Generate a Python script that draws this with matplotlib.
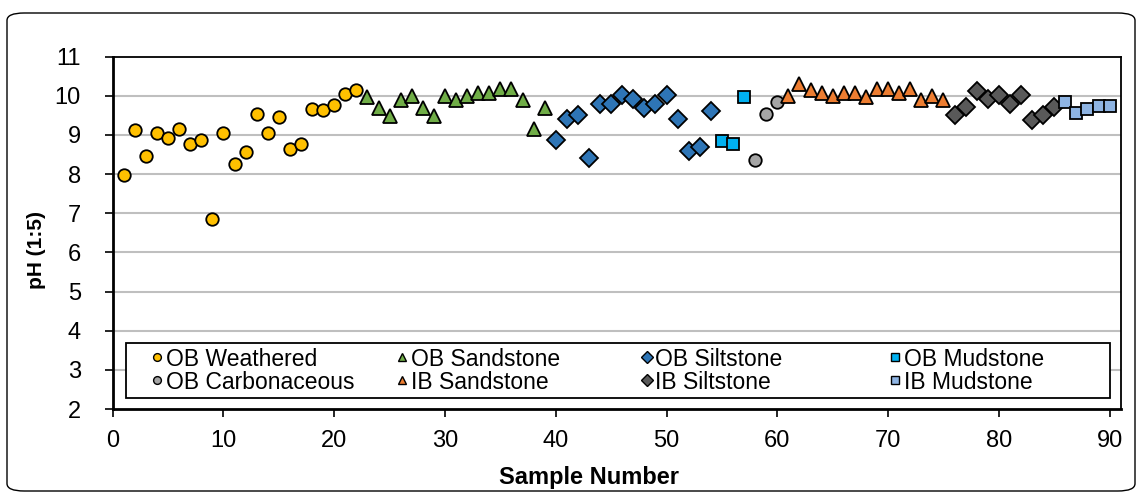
import matplotlib
matplotlib.use("Agg")
import matplotlib.pyplot as plt
from matplotlib.patches import FancyBboxPatch, Rectangle
from matplotlib.legend import Legend
from matplotlib.lines import Line2D

plt.rcParams['font.family'] = ['Liberation Sans', 'DejaVu Sans']

# ---- data ----
weathered_x = list(range(1, 23))
weathered_y = [7.97, 9.14, 8.46, 9.06, 8.92, 9.15, 8.76, 8.86, 6.85, 9.06, 8.27,
               8.56, 9.54, 9.06, 9.45, 8.63, 8.76, 9.66, 9.65, 9.76, 10.05, 10.15]
ob_sand_x = list(range(23, 40))
ob_sand_y = [9.97, 9.70, 9.48, 9.90, 10.00, 9.69, 9.48, 10.00, 9.90, 9.99, 10.08,
             10.08, 10.17, 10.17, 9.90, 9.15, 9.69]
ob_silt_x = list(range(40, 55))
ob_silt_y = [8.88, 9.40, 9.50, 8.41, 9.80, 9.79, 10.03, 9.93, 9.70, 9.80, 10.03,
             9.40, 8.58, 8.70, 9.62]
ob_mud_x = [55, 56, 57]
ob_mud_y = [8.85, 8.77, 9.97]
ob_carb_x = [58, 59, 60]
ob_carb_y = [8.35, 9.54, 9.83]
ib_sand_x = list(range(61, 76))
ib_sand_y = [9.99, 10.30, 10.16, 10.08, 9.99, 10.08, 10.08, 9.97, 10.17, 10.17,
             10.08, 10.17, 9.90, 9.99, 9.90]
ib_silt_x = list(range(76, 86))
ib_silt_y = [9.50, 9.71, 10.12, 9.93, 10.03, 9.80, 10.03, 9.39, 9.50, 9.71]
ib_mud_x = [86, 87, 88, 89, 90]
ib_mud_y = [9.83, 9.55, 9.66, 9.74, 9.74]

legend_columns = [["OB Weathered", "OB Carbonaceous"],
                  ["OB Sandstone", "IB Sandstone"],
                  ["OB Siltstone", "IB Siltstone"],
                  ["OB Mudstone", "IB Mudstone"]]
x_ticks = [0, 10, 20, 30, 40, 50, 60, 70, 80, 90]
y_ticks = [2, 3, 4, 5, 6, 7, 8, 9, 10, 11]

# ---- figure ----
W, H = 1143, 494
fig = plt.figure(figsize=(W / 100, H / 100), dpi=100)

left, right, top, bottom = 112.7, 1120.7, 56.7, 409.0
ax = fig.add_axes([left / W, 1 - bottom / H, (right - left) / W, (bottom - top) / H])

border = FancyBboxPatch((7 / W, 3 / H), (1135 - 7) / W, (486 - 8) / H,
                        boxstyle="round,pad=0,rounding_size=0.015",
                        transform=fig.transFigure, facecolor='none',
                        edgecolor='black', linewidth=1.0, zorder=10)
fig.patches.append(border)

# (x, y, marker, colour, plot size, legend size, label)
styles = [
    (weathered_x, weathered_y, 'o', '#FFC000', 9.0, 5.6, "OB Weathered"),
    (ob_sand_x, ob_sand_y, '^', '#70AD47', 9.5, 6.0, "OB Sandstone"),
    (ob_silt_x, ob_silt_y, 'D', '#2E75B6', 9.6, 6.6, "OB Siltstone"),
    (ob_mud_x, ob_mud_y, 's', '#00B0F0', 9.0, 5.6, "OB Mudstone"),
    (ob_carb_x, ob_carb_y, 'o', '#A5A5A5', 9.0, 5.6, "OB Carbonaceous"),
    (ib_sand_x, ib_sand_y, '^', '#ED7D31', 9.5, 6.0, "IB Sandstone"),
    (ib_silt_x, ib_silt_y, 'D', '#595959', 9.6, 6.6, "IB Siltstone"),
    (ib_mud_x, ib_mud_y, 's', '#8EB4E3', 9.0, 5.6, "IB Mudstone"),
]
proxies = {}
for xs, ys, m, c, ms, lms, lab in styles:
    ax.plot(xs, ys, linestyle='none', marker=m, markersize=ms,
            markerfacecolor=c, markeredgecolor='black', markeredgewidth=1.3,
            label=lab, zorder=3)
    proxies[lab] = Line2D([], [], linestyle='none', marker=m, markersize=lms,
                          markerfacecolor=c, markeredgecolor='black',
                          markeredgewidth=1.0)

ax.set_xlim(0, 91)
ax.set_ylim(2, 11)
ax.set_xticks(x_ticks)
ax.set_yticks(y_ticks)
ax.tick_params(axis='x', direction='out', length=6, width=1.2, pad=9, labelsize=17)
ax.tick_params(axis='y', direction='out', length=6, width=1.2, pad=17, labelsize=17)

for yv in y_ticks[1:-1]:
    ax.axhline(yv, color='#BFBFBF', linewidth=1.5, zorder=1)

ax.spines['left'].set_linewidth(2.0)
ax.spines['bottom'].set_linewidth(2.0)
ax.spines['top'].set_linewidth(1.3)
ax.spines['right'].set_linewidth(1.3)

fig.text(589 / W, 1 - 477 / H, "Sample Number", ha='center', va='center',
         fontsize=17, fontweight='bold')
fig.text(36 / W, 1 - 250 / H, "pH (1:5)", ha='center', va='center',
         rotation=90, fontsize=15, fontweight='bold')

# legend frame
frame = Rectangle((126 / W, 1 - 398 / H), (1110 - 126) / W, (398 - 343) / H,
                  transform=fig.transFigure, facecolor='white', edgecolor='black',
                  linewidth=1.3, zorder=4.5, clip_on=False)
ax.add_artist(frame)

col_left = [153, 398, 642.5, 891]
for cx, labels in zip(col_left, legend_columns):
    lg = Legend(ax, [proxies[l] for l in labels], labels, loc='center left',
                bbox_to_anchor=(cx / W, 1 - 370.5 / H),
                bbox_transform=fig.transFigure, frameon=False,
                fontsize=16.5, borderpad=0, borderaxespad=0,
                handlelength=0.35, handletextpad=0.2, labelspacing=0.0)
    lg.set_zorder(6)
    ax.add_artist(lg)

fig.savefig("out.png", dpi=100)
